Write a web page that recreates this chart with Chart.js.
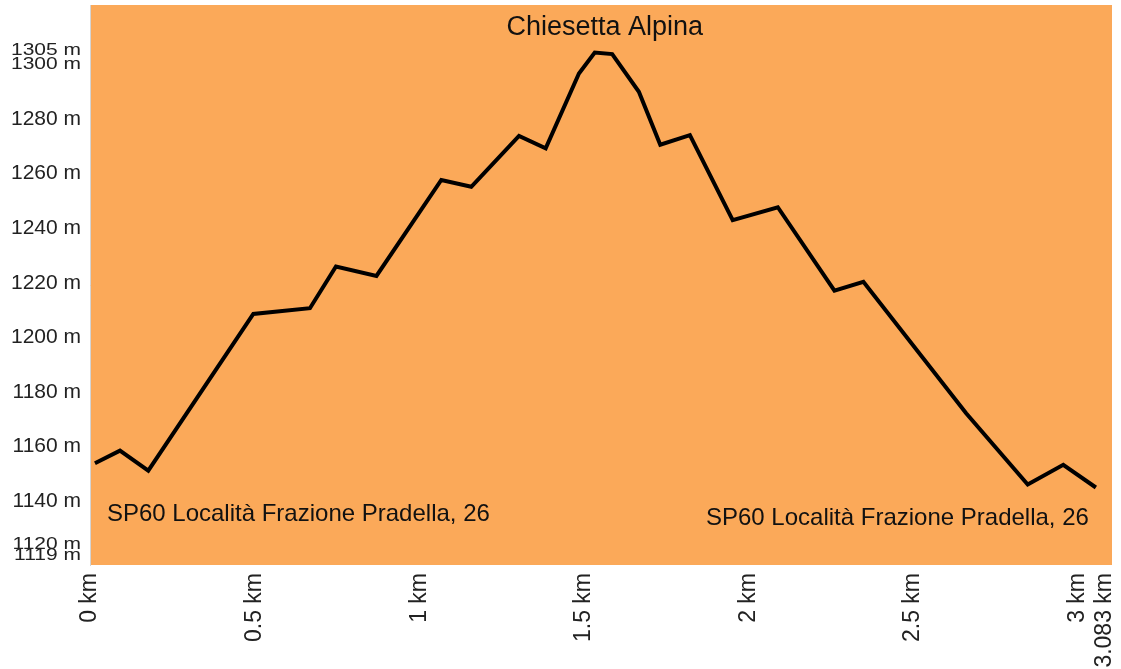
<!DOCTYPE html>
<html>
<head>
<meta charset="utf-8">
<script src="https://cdn.jsdelivr.net/npm/chart.js@4.4.0/dist/chart.umd.min.js"></script>
<style>
body { margin: 0; background: #fff; }
#wrap { width: 1121px; height: 669px; position: relative; }
</style>
</head>
<body>
<div id="wrap"><canvas id="profile"></canvas></div>
<script>
// elevation profile
const distanceKm = [0.015, 0.091, 0.177, 0.496, 0.668, 0.747, 0.870, 1.067, 1.158, 1.303, 1.384,
	1.485, 1.533, 1.586, 1.667, 1.732, 1.822, 1.952, 2.089, 2.261, 2.349, 2.661, 2.848, 2.956, 3.055];
const elevationM = [1153.9, 1158.5, 1151.2, 1208.6, 1210.7, 1226.0, 1222.5, 1257.7, 1255.2, 1273.8, 1269.3,
	1296.7, 1304.4, 1303.8, 1290.0, 1270.6, 1274.1, 1243.0, 1247.7, 1217.1, 1220.4, 1172.2, 1146.1, 1153.3, 1145.0];

const xTickValues = [0, 0.5, 1, 1.5, 2, 2.5, 3, 3.083];
const yTickValues = [1119, 1120, 1140, 1160, 1180, 1200, 1220, 1240, 1260, 1280, 1300, 1305];

const peakLabel = "Chiesetta Alpina";
const startLabel = "SP60 Località Frazione Pradella, 26";
const endLabel = "SP60 Località Frazione Pradella, 26";

const FONT = '"Liberation Sans", Arial, sans-serif';

const profileDecor = {
	id: "profileDecor",
	beforeDraw: function (chart) {
		const ctx = chart.ctx;
		const a = chart.chartArea;
		ctx.save();
		ctx.fillStyle = "#fba959";
		ctx.fillRect(a.left, a.top, a.right - a.left, a.bottom - a.top);
		ctx.restore();
	},
	afterDraw: function (chart) {
		const ctx = chart.ctx;
		const a = chart.chartArea;
		const x = chart.scales.x;
		const y = chart.scales.y;

		// y labels, pushed apart (and squeezed) where they crowd
		const pos = yTickValues.map(function (v) { return y.getPixelForValue(v); });
		const shown = pos.slice();
		shown[0] = Math.min(shown[0], a.bottom - 10);
		for (let i = 1; i < shown.length; i++) {
			if (shown[i] > shown[i - 1] - 10.5) shown[i] = shown[i - 1] - 10.5;
		}
		ctx.save();
		ctx.fillStyle = "#222";
		ctx.textAlign = "right";
		ctx.textBaseline = "middle";
		ctx.font = "21px " + FONT;
		yTickValues.forEach(function (v, i) {
			const crowded = (i > 0 && pos[i - 1] - pos[i] < 20) ||
				(i < pos.length - 1 && pos[i] - pos[i + 1] < 20);
			ctx.save();
			ctx.translate(81, shown[i]);
			if (crowded) ctx.scale(1, 0.78);
			ctx.fillText(v + " m", 0, 0);
			ctx.restore();
		});

		// place names
		ctx.fillStyle = "#111";
		ctx.font = "27px " + FONT;
		ctx.textAlign = "center";
		const top = Math.max.apply(null, elevationM);
		const peakIdx = elevationM.indexOf(top);
		ctx.fillText(peakLabel, x.getPixelForValue(distanceKm[peakIdx]) + 10, y.getPixelForValue(top) - 25);

		ctx.font = "24px " + FONT;
		ctx.textAlign = "left";
		ctx.fillText(startLabel, x.getPixelForValue(distanceKm[0]) + 12, a.bottom - 51);
		ctx.textAlign = "right";
		ctx.fillText(endLabel, x.getPixelForValue(distanceKm[distanceKm.length - 1]) - 7, a.bottom - 47);
		ctx.restore();
	},
};

const ctx = document.getElementById("profile").getContext("2d");
const profileChart = new Chart(ctx, {
	type: "line",
	data: {
		datasets: [
			{
				data: distanceKm.map(function (d, i) { return { x: d, y: elevationM[i] }; }),
				borderColor: "#000",
				borderWidth: 4,
				borderJoinStyle: "miter",
				pointRadius: 0,
				tension: 0,
				fill: false,
			},
		],
	},
	options: {
		responsive: true,
		maintainAspectRatio: false,
		animation: false,
		layout: { padding: { top: 5, right: 9, left: 0, bottom: 0 } },
		plugins: { legend: { display: false }, tooltip: { enabled: false } },
		scales: {
			x: {
				type: "linear",
				min: 0,
				max: 3.104,
				grid: { display: false },
				border: { display: false },
				afterBuildTicks: function (scale) {
					scale.ticks = xTickValues.map(function (v) { return { value: v }; });
				},
				afterFit: function (scale) {
					scale.height = 104;
					scale.paddingLeft = 0;
					scale.paddingRight = 0;
				},
				ticks: {
					autoSkip: false,
					minRotation: 90,
					maxRotation: 90,
					padding: 0,
					color: "#222",
					font: { family: FONT, size: 23 },
					callback: function (value) { return value + " km"; },
				},
			},
			y: {
				type: "linear",
				min: 1116.6,
				max: 1321.8,
				grid: { display: false },
				border: { display: true, color: "#d4d4d4" },
				afterBuildTicks: function (scale) {
					scale.ticks = yTickValues.map(function (v) { return { value: v }; });
				},
				afterFit: function (scale) {
					scale.width = 90;
					scale.paddingTop = 0;
					scale.paddingBottom = 0;
				},
				ticks: { display: false },
			},
		},
	},
	plugins: [profileDecor],
});
</script>
</body>
</html>
